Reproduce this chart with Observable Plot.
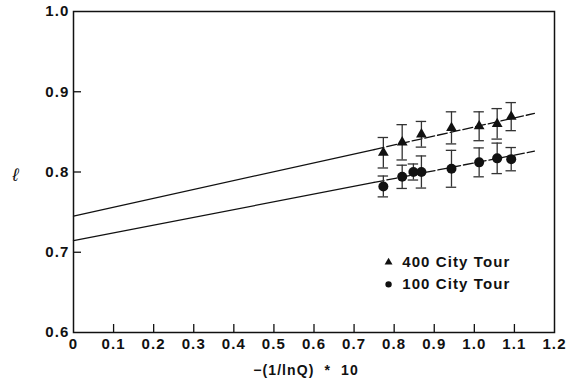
<!DOCTYPE html>
<html>
<head>
<meta charset="utf-8">
<script src="https://cdn.jsdelivr.net/npm/d3@7"></script>
<script src="https://cdn.jsdelivr.net/npm/@observablehq/plot@0.6"></script>
<style>
  html, body { margin: 0; padding: 0; background: #fff; }
  #chart svg { font-family: "Liberation Sans", Arial, sans-serif; font-weight: bold; }
</style>
</head>
<body>
<div id="chart"></div>
<script>
// ---- data ----
const xTicks = [0, 0.1, 0.2, 0.3, 0.4, 0.5, 0.6, 0.7, 0.8, 0.9, 1.0, 1.1, 1.2];
const xTickLabels = ["0", "0.1", "0.2", "0.3", "0.4", "0.5", "0.6", "0.7", "0.8", "0.9", "1.0", "1.1", "1.2"];
const yTicks = [0.6, 0.7, 0.8, 0.9, 1.0];
const yTickLabels = ["0.6", "0.7", "0.8", "0.9", "1.0"];

const city400X = [0.773, 0.820, 0.868, 0.943, 1.012, 1.057, 1.092];
const city400Y = [0.824, 0.837, 0.847, 0.855, 0.857, 0.860, 0.869];
const city400Err = [0.019, 0.022, 0.016, 0.020, 0.018, 0.019, 0.0175];

const city100X = [0.773, 0.820, 0.848, 0.868, 0.943, 1.012, 1.057, 1.092];
const city100Y = [0.782, 0.794, 0.800, 0.800, 0.804, 0.812, 0.817, 0.816];
const city100Err = [0.013, 0.0145, 0.010, 0.020, 0.023, 0.018, 0.019, 0.0145];

// fitted lines (extrapolated to x = 0)
const fitX = [0, 0.75, 1.15];
const fit400Y = [0.745, 0.828, 0.873];
const fit100Y = [0.7145, 0.787, 0.826];

const legendLabels = ["400 City Tour", "100 City Tour"];
const legendSymbols = ["triangle", "circle"];

const xLabel = "\u2212(1/lnQ)\u00a0\u00a0*\u00a0\u00a010";
const yLabel = "\u2113";

// ---- build tables ----
const pts400 = city400X.map((x, i) => ({x, y: city400Y[i], e: city400Err[i]}));
const pts100 = city100X.map((x, i) => ({x, y: city100Y[i], e: city100Err[i]}));
const allPts = pts400.concat(pts100);
const fitSeg = (ys, a, b) => fitX.slice(a, b + 1).map((x, i) => ({x, y: ys[a + i]}));
const legend = legendLabels.map((label, i) => ({label, symbol: legendSymbols[i], row: i}));
const innerX = xTicks.filter(t => t > 0 && t < 1.2);
const innerY = yTicks.filter(t => t > 0.6 && t < 1.0);
const capHalf = 0.013;
const ink = "#111";

const chart = Plot.plot({
  width: 566,
  height: 384,
  marginLeft: 73,
  marginRight: 12,
  marginTop: 11,
  marginBottom: 52,
  style: {fontSize: "15px", letterSpacing: "1.1px"},
  x: {domain: [0, 1.2]},
  y: {domain: [0.6, 1.0]},
  marks: [
    Plot.axisX({ticks: xTicks, tickSize: 0, tickPadding: 6, tickFormat: d => xTickLabels[xTicks.indexOf(d)], label: null, fill: ink}),
    Plot.axisY({ticks: yTicks, tickSize: 0, tickPadding: 4, tickFormat: d => yTickLabels[yTicks.indexOf(d)], label: null, fill: ink}),
    // inward ticks
    Plot.ruleX(innerX, {x: d => d, y1: 0.6, y2: 0.61, stroke: ink, strokeWidth: 1.3}),
    Plot.ruleY(innerY, {y: d => d, x1: 0, x2: 0.02, stroke: ink, strokeWidth: 1.3}),
    // fit lines
    Plot.line(fitSeg(fit400Y, 0, 1), {x: "x", y: "y", stroke: ink, strokeWidth: 1.3}),
    Plot.line(fitSeg(fit400Y, 1, 2), {x: "x", y: "y", stroke: ink, strokeWidth: 1.3, strokeDasharray: "10,3"}),
    Plot.line(fitSeg(fit100Y, 0, 1), {x: "x", y: "y", stroke: ink, strokeWidth: 1.3}),
    Plot.line(fitSeg(fit100Y, 1, 2), {x: "x", y: "y", stroke: ink, strokeWidth: 1.3, strokeDasharray: "10,3"}),
    // error bars
    Plot.ruleX(allPts, {x: "x", y1: d => d.y - d.e, y2: d => d.y + d.e, stroke: "#333", strokeWidth: 1.3}),
    Plot.ruleY(allPts, {y: d => d.y - d.e, x1: d => d.x - capHalf, x2: d => d.x + capHalf, stroke: "#333", strokeWidth: 1.3}),
    Plot.ruleY(allPts, {y: d => d.y + d.e, x1: d => d.x - capHalf, x2: d => d.x + capHalf, stroke: "#333", strokeWidth: 1.3}),
    // markers
    Plot.dot(pts400, {x: "x", y: "y", symbol: "triangle", r: 4, fill: ink, stroke: "none"}),
    Plot.dot(pts100, {x: "x", y: "y", symbol: "circle", r: 5, fill: ink, stroke: "none"}),
    // legend
    Plot.dot(legend, {x: 0.786, y: d => 0.6875 - d.row * 0.0275, symbol: "symbol", r: d => d.row === 0 ? 3 : 3.6, fill: ink, stroke: "none"}),
    Plot.text(legend, {x: 0.82, y: d => 0.6875 - d.row * 0.0275, text: "label", textAnchor: "start", fontSize: 15, fill: ink}),
    // axis titles
    Plot.text([xLabel], {text: d => d, frameAnchor: "bottom", dy: 42, dx: -8, fontSize: 14, fill: ink}),
    Plot.text([yLabel], {text: d => d, frameAnchor: "left", y: 0.796, dx: -61, fontSize: 18, fontStyle: "italic", fontWeight: "normal", fill: ink}),
    Plot.frame({stroke: ink, strokeWidth: 1.5})
  ]
});
document.getElementById("chart").appendChild(chart);
</script>
</body>
</html>
